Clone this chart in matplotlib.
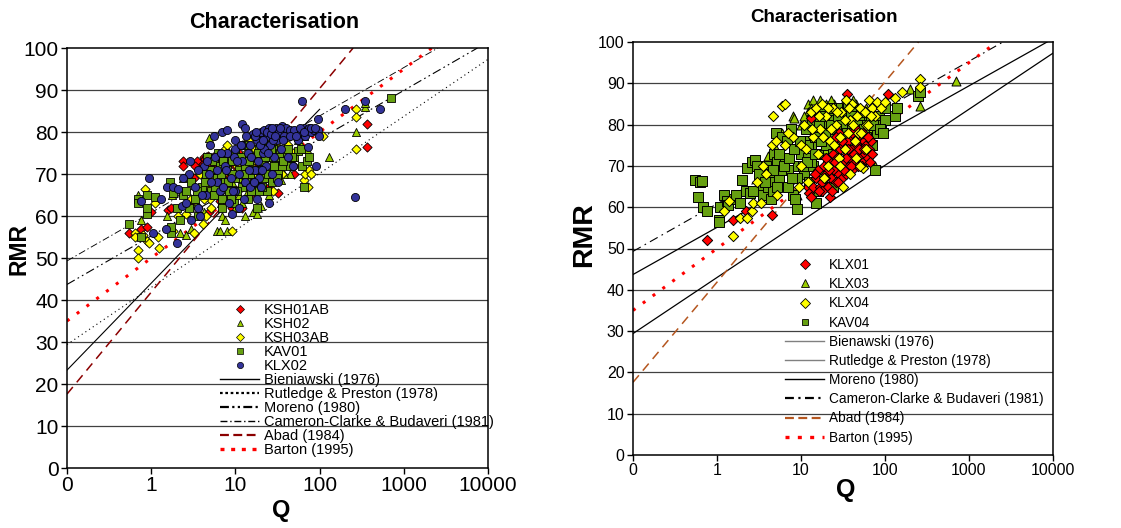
import numpy as np
import matplotlib
matplotlib.use("Agg")
import matplotlib.pyplot as plt
from matplotlib.lines import Line2D

plt.rcParams['font.family'] = ['Liberation Sans', 'DejaVu Sans']

# ---------------- data: left panel ----------------
ksh01ab_q = [0.55, 0.75, 0.9, 1.0, 1.6, 1.7, 2.4, 2.4, 2.9, 3.2, 3.8, 4.0, 4.2, 4.5, 4.6, 5.0, 5.2, 5.5, 5.8, 6.0,
             6.2, 6.5, 4.8, 7, 8, 9, 10, 12, 12, 14, 16, 20, 25, 32, 40, 45, 50, 370, 370, 3.5, 4.3, 5.3, 3.9, 15, 18,
             4.1, 4.4, 4.7, 5.1, 5.4, 3.7, 3.3, 5.7, 4.9, 6.3, 6.8, 11, 13]
ksh01ab_rmr = [56, 57, 57.5, 61, 61.5, 62, 73, 72, 63, 69, 72, 73, 74, 74, 72, 73, 71, 70, 74, 72,
               67, 63.5, 61, 74, 70, 62, 72, 62, 77, 74, 72, 70, 67, 65.5, 76, 72, 70, 82, 76.5, 73, 71, 69, 70.5, 65, 69,
               72.5, 73.5, 74.2, 72.5, 74, 71, 72, 71.5, 70, 73, 71, 75, 70]

ksh02_q = [0.7, 0.75, 1.55, 1.75, 2.2, 2.3, 2.4, 2.6, 3.0, 3.5, 4.8, 5, 6, 6.5, 7, 7.5, 8, 8, 10, 11, 12, 13, 14, 15,
           16, 18, 20, 22, 25, 28, 30, 35, 40, 45, 55, 65, 70, 130, 270, 350, 350, 5.5, 9, 17, 24, 3.8, 12, 8.5,
           3.2, 4.2, 6.8, 9.5, 11.5, 13.5, 19, 23, 27, 33, 38, 50, 60]
ksh02_rmr = [65, 59, 60, 65, 56, 66, 69, 55.5, 57, 63, 78.5, 67, 56.5, 56.5, 60, 59, 56.5, 75, 62, 65, 72, 60, 66, 76,
             61, 60.5, 62.5, 70, 65, 69, 73, 68.5, 75, 70, 78, 79, 76, 74, 80, 86, 87, 70, 68, 74, 78, 66, 63, 64,
             64, 61, 63, 66, 69, 73, 67, 72, 71, 72, 70, 74, 77]

ksh03ab_q = [0.65, 0.65, 0.7, 0.7, 0.8, 0.85, 0.9, 0.95, 1.1, 1.2, 1.25, 1.8, 2.1, 2.6, 3.2, 3.6, 4.1, 4.5, 5, 5.5,
             6.5, 7.5, 8, 8.5, 9, 10, 11, 12, 13, 14, 15, 16, 17, 18, 20, 22, 24, 26, 28, 30, 32, 35, 38, 40, 45,
             50, 55, 60, 65, 68, 72, 75, 80, 110, 270, 270, 270, 3.8, 5.8, 7, 9.5, 19, 23,
             4.8, 6, 7.2, 8.8, 10.5, 11.8, 13.5, 15.5, 17.5, 19.5, 21.5, 25, 27, 29, 33, 36, 42, 48, 4.2, 5.2, 6.2, 3.0]
ksh03ab_rmr = [56, 55, 52, 50, 55.5, 66.5, 54, 53.5, 63, 55, 52.5, 56.5, 60, 60.5, 56, 62, 58, 60, 64, 69,
               72, 76, 77, 65, 56.5, 70, 74, 67, 71, 78, 69, 73, 76, 68, 75, 72, 78, 74, 66, 77, 71, 73, 81, 75, 79,
               72, 78, 80, 68.5, 70, 67, 71, 70, 79, 85.5, 83.5, 76, 70, 74, 69, 73, 71, 69,
               67, 66, 70, 73, 72, 70, 75, 72, 70, 77, 74, 71, 77, 73, 76, 70, 77, 75, 64, 62, 65, 64]

kav01_q = [0.55, 0.7, 0.7, 0.75, 0.9, 0.9, 0.9, 1.1, 1.65, 1.7, 1.7, 1.8, 2.0, 2.2, 2.4, 2.6, 3.0, 3.3, 3.6, 4.0,
           4.3, 4.6, 5, 5.2, 5.5, 6, 6.5, 7, 7.5, 8, 8.5, 9, 9.5, 10, 11, 12, 13, 14, 15, 16, 17, 18, 19, 20,
           21, 22, 23, 24, 25, 26, 27, 28, 30, 32, 34, 36, 40, 45, 50, 55, 60, 62, 65, 70, 75, 700, 7, 10, 13, 19,
           4.5, 5.5, 6.2, 7.2, 8.2, 9.2, 10.5, 11.5, 12.5, 13.5, 14.5, 16.5, 18.5, 20.5, 22.5, 24.5, 26.5, 29, 31,
           33, 37, 42, 47, 5.8, 6.8, 8.8, 15.5, 21, 3.5, 2.8]
kav01_rmr = [58, 64, 63, 55, 60.5, 62, 65, 64.5, 68, 56, 57.5, 65.5, 62, 59, 65, 66, 68, 64, 60, 67,
             68, 74, 71, 66, 73, 69, 72, 64, 68, 71, 66, 73, 63, 69, 71, 67, 72, 64, 70, 74, 68, 62, 76, 71,
             73, 69, 77, 66, 74, 71, 68, 76, 73, 70, 75, 72, 75, 72, 74, 75.5, 76, 72, 67, 73, 74, 88, 62, 75, 77, 66,
             70, 65, 75, 73, 68, 70, 66, 74, 70, 68, 73, 71, 75, 67, 74, 70, 76, 72, 69,
             74, 73, 76, 74, 67, 70, 64, 66, 78, 66, 62]

klx02_q = [0.75, 0.95, 1.05, 1.3, 1.5, 1.55, 1.8, 2.0, 2.1, 2.3, 2.6, 2.8, 2.9, 3.0, 3.3, 3.6, 3.8, 4.2, 4.5, 4.8,
           5.0, 5.5, 5.8, 6.0, 6.5, 7, 7.5, 8, 8.5, 9, 9.5, 10, 10, 11, 11, 12, 12, 13, 13, 14, 15, 15, 16, 17,
           18, 18, 19, 20, 21, 22, 23, 24, 25, 26, 27, 28, 29, 30, 31, 32, 33, 35, 36, 38, 40, 42, 45, 48, 50,
           55, 60, 62, 65, 68, 70, 72, 75, 80, 85, 90, 95, 95, 98, 200, 260, 350, 520, 20, 25, 12, 8, 6, 4, 17, 22, 28,
           5.2, 6.8, 7.8, 8.8, 9.8, 10.5, 11.5, 12.5, 13.5, 14.5, 15.5, 16.5, 17.5, 18.5, 19.5, 20.5, 21.5, 23.5,
           24.5, 26.5, 27.5, 29.5, 34, 37, 44, 52, 58, 66, 78, 88, 4.6, 3.6, 2.4, 7.2, 9.3]
klx02_rmr = [63.5, 69, 56, 64, 57, 67, 67, 53.5, 66.5, 62.5, 63, 70, 73, 59, 67, 62, 60, 72, 65, 70,
             77, 79, 74, 68, 66, 80, 72, 80.5, 63, 60.5, 74, 76, 66, 70, 62, 82, 73, 81, 68, 75, 67, 77, 79.5, 71,
             78, 64, 69, 80, 75, 80.5, 72, 79, 81, 77, 70, 80.5, 74, 81, 78, 68, 80, 76, 81.5, 79, 81, 74, 80.5, 72, 80.5,
             78, 80, 87.5, 81, 79, 80.5, 76.5, 81, 80, 80.5, 72, 83, 80.5, 79, 85.5, 64.5, 87.5, 85.5, 67, 63, 77, 75, 71, 65, 79, 76, 78,
             68, 75, 71, 69, 78, 73, 77, 64, 79, 71, 74, 68, 80, 73, 77, 71, 78, 80,
             75, 79.5, 81, 79, 81, 78, 79, 79, 81, 80, 81, 81, 73, 71, 69, 67, 66]

bien_l_q, bien_l_rmr = [0.1, 100], [23.3, 85.4]
rutl_l_q, rutl_l_rmr = [0.1, 10000], [29.4, 97.3]
more_l_q, more_l_rmr = [0.1, 7500], [43.7, 100]
came_l_q, came_l_rmr = [0.1, 2540], [49.3, 100]
abad_l_q, abad_l_rmr = [0.1, 250], [17.6, 100]
bart_l_q, bart_l_rmr = [0.1, 2154], [35, 100]

# ---------------- data: right panel ----------------
klx01_q = [0.75, 1.55, 2.2, 4.5, 12, 12.5, 13, 14, 15, 16, 17, 18, 19, 20, 21, 22, 23, 24, 25, 26, 27, 28, 29, 30,
           31, 32, 33, 34, 35, 36, 37, 38, 40, 41, 42, 44, 45, 46, 48, 50, 52, 54, 56, 58, 60, 62, 65, 68, 70,
           35, 13, 110, 28, 45, 55, 25, 22, 18,
           14.5, 16.5, 19.5, 21.5, 23.5, 25.5, 27.5, 29.5, 32.5, 34.5, 36.5, 39, 43, 47, 49, 53, 57, 63, 66,
           30.5, 26, 40, 20]
klx01_rmr = [52, 57, 59, 58, 65, 63.5, 62.5, 65, 67, 69, 65, 66, 70, 68, 65, 71, 67, 73, 69, 66, 72, 68, 74, 70,
             67, 75, 71, 68, 73, 76, 70, 72, 74, 69, 77, 71, 73, 75, 70, 72, 74, 71, 76, 73, 75, 72, 74, 76, 73,
             87.5, 81.5, 87.5, 78, 79, 78, 75, 62.5, 64,
             68, 64, 67, 69, 64, 71, 66, 70, 69, 72, 74, 70, 73, 77, 74, 70, 74, 77, 71,
             76, 77, 78, 72]

klx03_q = [6, 8, 8.3, 12, 12, 14, 10, 16, 18, 20, 22, 25, 28, 30, 35, 40, 45, 50, 55, 60, 65, 70, 75, 85,
           200, 260, 700, 4, 9, 15, 20, 33, 11, 13, 17, 19, 23, 26, 32, 38, 42, 48, 7, 5]
klx03_rmr = [78, 82, 81.5, 85, 83, 86, 80, 84, 82, 85, 78, 85, 80, 84, 86, 83, 85, 82, 80, 84, 72, 79, 70, 81,
             88.5, 84.5, 90.5, 72.5, 63, 76, 74, 77, 82, 84, 86, 83, 86, 83, 85, 85, 86, 84, 77, 74]

klx04_q = [1.2, 1.4, 1.55, 1.9, 2.3, 2.6, 2.7, 3, 3.3, 3.5, 3.8, 4.5, 4.6, 5, 5.2, 6, 6.5, 6.5, 8, 9.5, 10, 11, 12,
           13, 14, 15, 16, 17, 18, 19, 20, 22, 24, 26, 28, 30, 32, 34, 36, 38, 40, 45, 48, 50, 55, 60, 65, 70,
           75, 80, 90, 100, 130, 160, 260, 260, 25, 21, 10,
           7, 11.5, 13.5, 16.5, 18.5, 21, 23, 27, 29, 33, 37, 42, 46, 52, 58, 63, 68, 29, 33, 38, 44, 50, 60]
klx04_rmr = [59, 61.5, 53, 57.5, 57.5, 59, 61, 66, 61, 70, 68, 75, 82, 76, 63, 84.5, 85, 75, 77, 65, 75, 80, 66,
             83, 77, 84, 73, 79, 85, 67, 82, 76, 84, 80, 72, 83, 65, 86, 78, 81, 85, 72, 78, 84, 69.5, 80, 86, 84,
             82, 85.5, 84, 85.5, 86.5, 88, 91, 89, 75, 70, 70,
             78, 74, 79, 82, 77, 84, 79, 83, 77, 81, 84, 80, 82, 78, 83, 80, 82, 70, 74, 68, 76, 70, 74]

kav04_q = [0.55, 0.6, 0.63, 0.66, 0.68, 0.75, 1.05, 1.05, 1.1, 1.2, 1.3, 1.35, 1.6, 1.7, 1.9, 2.0, 2.2, 2.3, 2.5,
           2.6, 2.8, 3, 3.3, 3.5, 3.8, 4, 4.2, 4.4, 4.5, 4.8, 5, 5.2, 5.5, 6, 6.5, 7, 7.5, 8, 8.5, 9, 9.2, 10,
           11, 11, 12, 12.5, 13, 14, 15, 15, 16, 17, 18, 19, 20, 21, 22, 23, 24, 25, 26, 27, 28, 30, 32, 34,
           36, 38, 40, 42, 45, 48, 50, 55, 60, 62, 65, 70, 75, 80, 85, 90, 100, 100, 130, 140, 250, 260,
           7, 9, 13, 16, 19, 24, 29, 33, 44, 58, 3.2, 4.6, 5.8,
           5.5, 6.2, 6.8, 7.2, 8.2, 10.5, 11.5, 12.2, 13.5, 14.5, 16.5, 17.5, 18.5, 20.5, 22.5, 25.5, 27.5, 31,
           35, 39, 46, 52, 57, 68, 72, 88, 95, 4.7, 3.7, 2.7, 5.2, 7.8, 9.6, 11.8, 14.8, 17, 23, 26]
kav04_rmr = [66.5, 62.5, 66, 66.3, 60, 59, 57, 56.5, 60, 63, 61.5, 60.5, 62, 63, 61, 66.5, 64, 69.5, 63.5,
             71, 71.5, 70, 65, 63, 70, 65, 68, 62, 66, 73, 78, 71, 67, 77, 72, 69, 79, 63, 62, 59.5, 70, 73,
             76, 68, 72, 66, 75, 70, 61, 82, 73, 78, 68, 80, 75, 70, 83, 78, 65, 81, 73, 84, 77, 70, 82, 79,
             84, 76, 81, 73, 83, 78, 80, 82, 77, 74, 81, 75, 69, 78, 82, 80, 81, 84, 82, 84, 87, 88,
             65, 67, 71, 64, 77, 73, 80, 75, 78, 80, 68, 64, 69,
             73, 70, 76, 72, 74, 70, 79, 75, 81, 77, 80, 76, 83, 78, 80, 77, 82, 80,
             78, 82, 80, 83, 79, 82, 80, 79, 78, 69, 66, 64, 65, 67, 76, 71, 73, 82, 84, 79]

rutl_r_q, rutl_r_rmr = [0.1, 10000], [29.4, 97.3]
more_r_q, more_r_rmr = [0.1, 8500], [43.7, 100]
came_r_q, came_r_rmr = [0.1, 2540], [49.3, 100]
abad_r_q, abad_r_rmr = [0.1, 250], [17.6, 100]
bart_r_q, bart_r_rmr = [0.1, 2154], [35, 100]

xticks = [0.1, 1, 10, 100, 1000, 10000]
xtick_labels = ['0', '1', '10', '100', '1000', '10000']
yticks = list(range(0, 101, 10))

# ---------------- figure ----------------
W, H = 1121, 528
fig = plt.figure(figsize=(W / 100, H / 100), dpi=100)
axL = fig.add_axes([67 / W, 1 - 468 / H, 421 / W, 420 / H])
axR = fig.add_axes([633 / W, 1 - 455 / H, 420 / W, 413 / H])

RED = '#FF0000'
LGREEN = '#99CC00'
YEL = '#FFFF00'
DGREEN = '#66A011'
BLUE = '#333399'

famL = ['Liberation Sans', 'DejaVu Sans']


def style_axes(ax, fs):
    ax.set_xscale('log')
    ax.set_xlim(0.1, 10000)
    ax.set_ylim(0, 100)
    ax.set_xticks(xticks)
    ax.set_xticklabels(xtick_labels, fontsize=fs, family=famL)
    ax.minorticks_off()
    ax.set_yticks(yticks)
    ax.set_yticklabels([str(v) for v in yticks], fontsize=fs, family=famL)
    ax.tick_params(direction='out', length=4, width=1, color='black', pad=2)
    for y in yticks[1:-1]:
        ax.axhline(y, color='#404040', lw=0.9, zorder=1)
    for s in ax.spines.values():
        s.set_linewidth(1.1)
        s.set_color('black')


style_axes(axL, 15)
style_axes(axR, 11.5)

# left lines
lw = 0.8
axL.plot(bien_l_q, bien_l_rmr, color='black', lw=lw, zorder=2)
axL.plot(rutl_l_q, rutl_l_rmr, color='black', lw=lw, ls=(0, (1, 3)), zorder=2)
axL.plot(more_l_q, more_l_rmr, color='black', lw=lw, ls=(0, (8, 3, 1.5, 3, 1.5, 3)), zorder=2)
axL.plot(came_l_q, came_l_rmr, color='black', lw=lw * 0.8, ls=(0, (8, 3, 1.5, 3)), zorder=2)
axL.plot(abad_l_q, abad_l_rmr, color='#8B0000', lw=1.1, ls=(0, (6, 4)), zorder=2)
axL.plot(bart_l_q, bart_l_rmr, color=RED, lw=2.2, ls=(0, (1, 3)), zorder=2)

msL = 34
axL.scatter(ksh01ab_q, ksh01ab_rmr, marker='D', s=msL * 0.65, c=RED, edgecolors='black', linewidths=0.6, zorder=3)
axL.scatter(ksh02_q, ksh02_rmr, marker='^', s=msL, c=LGREEN, edgecolors='black', linewidths=0.6, zorder=3)
axL.scatter(ksh03ab_q, ksh03ab_rmr, marker='D', s=msL * 0.65, c=YEL, edgecolors='black', linewidths=0.6, zorder=3)
axL.scatter(kav01_q, kav01_rmr, marker='s', s=msL, c=DGREEN, edgecolors='black', linewidths=0.6, zorder=3)
axL.scatter(klx02_q, klx02_rmr, marker='o', s=msL, c=BLUE, edgecolors='black', linewidths=0.6, zorder=3)

hL = [Line2D([], [], ls='none', marker='D', ms=4, mfc=RED, mec='black', mew=0.5),
      Line2D([], [], ls='none', marker='^', ms=5, mfc=LGREEN, mec='black', mew=0.5),
      Line2D([], [], ls='none', marker='D', ms=4, mfc=YEL, mec='black', mew=0.5),
      Line2D([], [], ls='none', marker='s', ms=4.5, mfc=DGREEN, mec='black', mew=0.5),
      Line2D([], [], ls='none', marker='o', ms=4.5, mfc=BLUE, mec='black', mew=0.5),
      Line2D([], [], color='black', lw=1.0),
      Line2D([], [], color='black', lw=1.6, ls=(0, (1.2, 1.2))),
      Line2D([], [], color='black', lw=1.6, ls=(0, (4, 1.5, 1, 1.5, 1, 1.5))),
      Line2D([], [], color='black', lw=1.0, ls=(0, (5, 2, 1, 2))),
      Line2D([], [], color='#8B0000', lw=1.6, ls=(0, (4, 2))),
      Line2D([], [], color=RED, lw=2.4, ls=(0, (1.2, 2)))]
labL = ['KSH01AB', 'KSH02', 'KSH03AB', 'KAV01', 'KLX02', 'Bieniawski (1976)', 'Rutledge & Preston (1978)',
        'Moreno (1980)', 'Cameron-Clarke & Budaveri (1981)', 'Abad (1984)', 'Barton (1995)']
fig.legend(hL, labL, loc='upper left', bbox_to_anchor=(220 / W, 1 - 303 / H), frameon=False,
           prop={'family': famL, 'size': 10.5}, handlelength=2.7, handletextpad=0.3,
           labelspacing=0.0, borderpad=0, borderaxespad=0, numpoints=1)

fig.text(274 / W, 1 - 22 / H, 'Characterisation', fontsize=15.5, fontweight='bold', ha='center', va='center')
fig.text(19 / W, 1 - 249 / H, 'RMR', fontsize=16.5, fontweight='bold', rotation=90, ha='center', va='center')
fig.text(281 / W, 1 - 510 / H, 'Q', fontsize=17, fontweight='bold', ha='center', va='center')

# right lines
axR.plot(rutl_r_q, rutl_r_rmr, color='black', lw=0.9, zorder=2)
axR.plot(more_r_q, more_r_rmr, color='black', lw=0.9, zorder=2)
axR.plot(came_r_q, came_r_rmr, color='black', lw=0.8, ls=(0, (8, 4, 1.5, 4)), zorder=2)
axR.plot(abad_r_q, abad_r_rmr, color='#B5561F', lw=1.1, ls=(0, (6, 4)), zorder=2)
axR.plot(bart_r_q, bart_r_rmr, color=RED, lw=2.2, ls=(0, (1, 3)), zorder=2)

msR = 42
axR.scatter(klx03_q, klx03_rmr, marker='^', s=msR, c=LGREEN, edgecolors='black', linewidths=0.7, zorder=3)
axR.scatter(kav04_q, kav04_rmr, marker='s', s=msR, c=DGREEN, edgecolors='black', linewidths=0.7, zorder=3)
axR.scatter(klx01_q, klx01_rmr, marker='D', s=msR * 0.65, c=RED, edgecolors='black', linewidths=0.7, zorder=3)
axR.scatter(klx04_q, klx04_rmr, marker='D', s=msR * 0.65, c=YEL, edgecolors='black', linewidths=0.7, zorder=3)

hR = [Line2D([], [], ls='none', marker='D', ms=5, mfc=RED, mec='black', mew=0.6),
      Line2D([], [], ls='none', marker='^', ms=6, mfc=LGREEN, mec='black', mew=0.6),
      Line2D([], [], ls='none', marker='D', ms=5, mfc=YEL, mec='black', mew=0.6),
      Line2D([], [], ls='none', marker='s', ms=5, mfc=DGREEN, mec='black', mew=0.6),
      Line2D([], [], color='#808080', lw=1.0),
      Line2D([], [], color='#808080', lw=1.0),
      Line2D([], [], color='black', lw=1.0),
      Line2D([], [], color='black', lw=1.6, ls=(0, (4, 2, 1, 2))),
      Line2D([], [], color='#B5561F', lw=1.6, ls=(0, (4, 2))),
      Line2D([], [], color=RED, lw=2.4, ls=(0, (1.2, 2.5)))]
labR = ['KLX01', 'KLX03', 'KLX04', 'KAV04', 'Bienawski (1976)', 'Rutledge & Preston (1978)', 'Moreno (1980)',
        'Cameron-Clarke & Budaveri (1981)', 'Abad (1984)', 'Barton (1995)']
fig.legend(hR, labR, loc='upper left', bbox_to_anchor=(785 / W, 1 - 258 / H), frameon=False,
           prop={'family': famL, 'size': 9.8}, handlelength=2.9, handletextpad=0.3,
           labelspacing=0.38, borderpad=0, borderaxespad=0, numpoints=1)

fig.text(824 / W, 1 - 18 / H, 'Characterisation', fontsize=13.5, fontweight='bold', ha='center', va='center')
fig.text(584 / W, 1 - 235 / H, 'RMR', fontsize=20.5, fontweight='bold', rotation=90, ha='center', va='center')
fig.text(846 / W, 1 - 490 / H, 'Q', fontsize=18, fontweight='bold', ha='center', va='center')

fig.savefig('out.png', dpi=100)
